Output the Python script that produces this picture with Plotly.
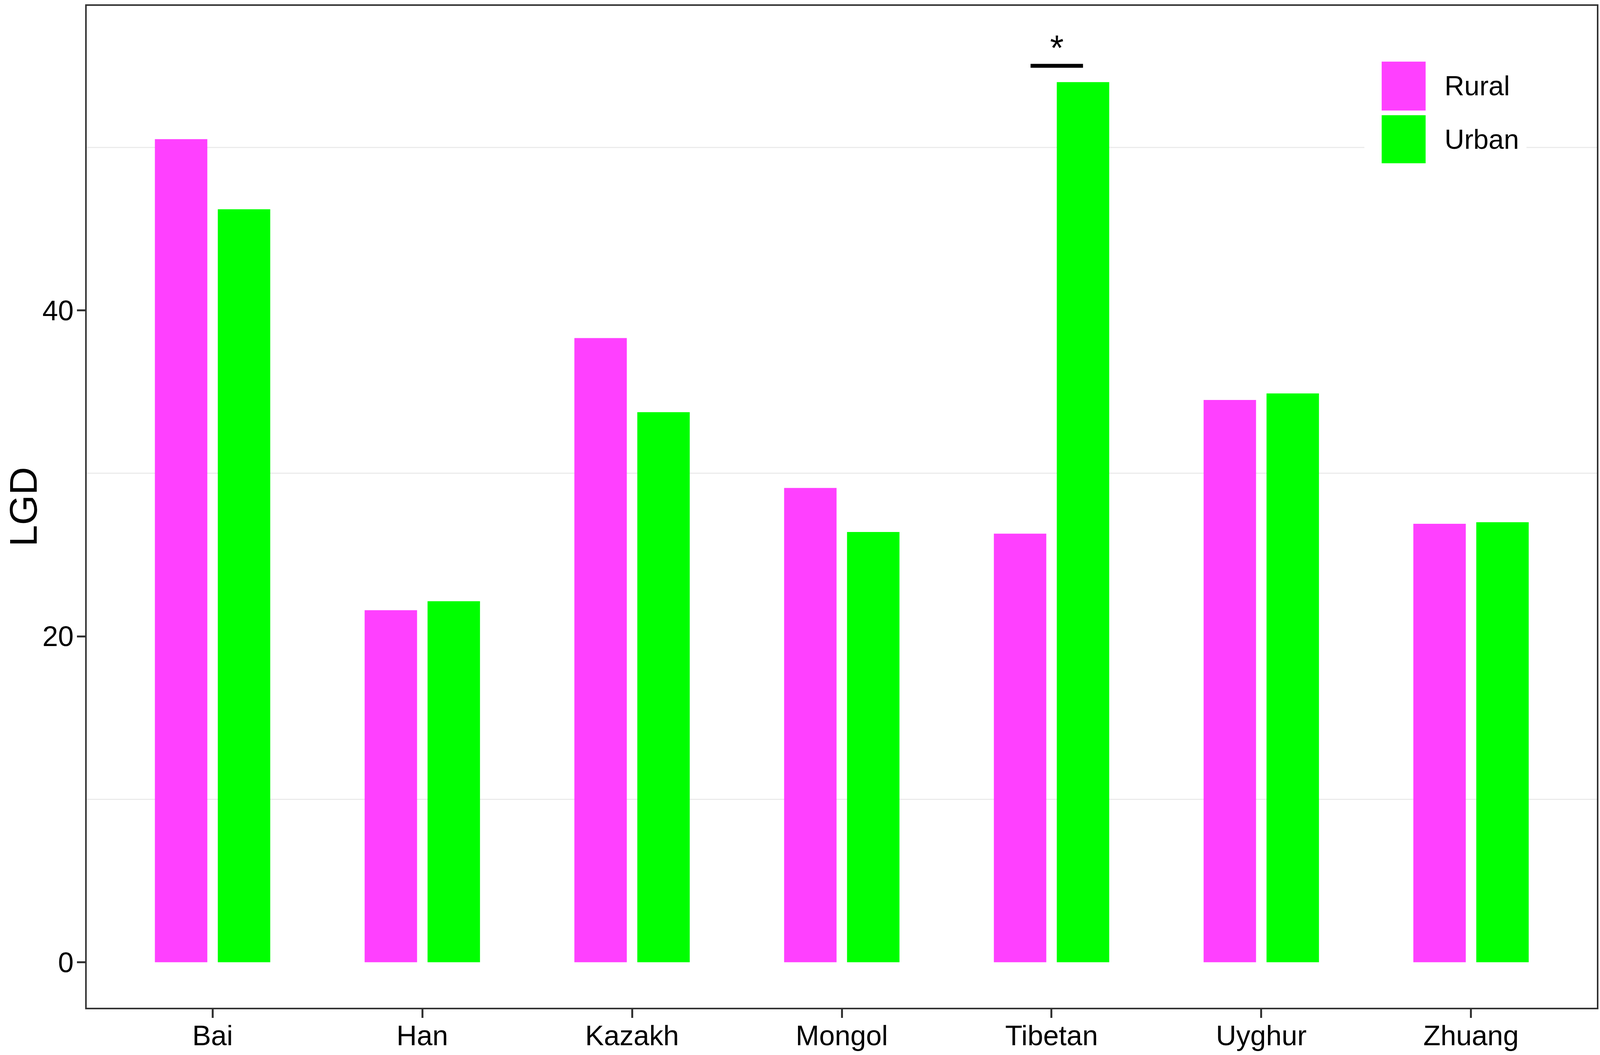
import plotly.graph_objects as go

# data
groups = ["Bai", "Han", "Kazakh", "Mongol", "Tibetan", "Uyghur", "Zhuang"]
series = ["Rural", "Urban"]
rural = [50.5, 21.6, 38.3, 29.1, 26.3, 34.5, 26.9]
urban = [46.2, 22.15, 33.75, 26.4, 54.0, 34.9, 27.0]
y_ticks = [0, 20, 40]
y_grid = [10, 30, 50]
y_title = "LGD"
sig_span = [3.9, 4.15]   # significance bracket over Tibetan
sig_level = 55.0
sig_label = "*"

colors = {"Rural": "#FF40FF", "Urban": "#00FF00"}
font = "Liberation Sans, Arial, Helvetica, sans-serif"
W, H = 4550, 2701
M = dict(l=247, r=9, t=15, b=121)

fig = go.Figure()
for name, vals in zip(series, [rural, urban]):
    fig.add_trace(go.Bar(x=groups, y=vals, name=name,
                         marker=dict(color=colors[name], line=dict(width=0)),
                         showlegend=False))

fig.update_layout(
    width=W, height=H,
    margin=dict(**M, pad=0),
    paper_bgcolor="white", plot_bgcolor="white",
    barmode="group", bargap=0.4, bargroupgap=1 / 6,
    font=dict(family=font, color="black"),
)
fig.update_xaxes(
    range=[-0.6, 6.6], showgrid=False, automargin=False,
    showline=True, linecolor="#333333", linewidth=4, mirror=True,
    ticks="outside", ticklen=22, tickwidth=5, tickcolor="#333333",
    ticklabelstandoff=-16,
    tickfont=dict(size=72, color="black", family=font),
)
fig.update_yaxes(
    range=[-2.79, 58.68], automargin=False,
    tickvals=y_ticks, showgrid=False, zeroline=False,
    minor=dict(tickvals=y_grid, showgrid=True, gridcolor="#EBEBEB", gridwidth=3, ticklen=0),
    showline=True, linecolor="#333333", linewidth=4, mirror=True,
    ticks="outside", ticklen=21, tickwidth=5, tickcolor="#333333",
    ticklabelstandoff=-6,
    tickfont=dict(size=72, color="black", family=font),
)

# y axis title placed in the left margin, its box flush with the page edge
fig.add_annotation(x=-0.0566, y=0.5, xref="paper", yref="paper", text=y_title,
                   textangle=-90, showarrow=False, xanchor="left", yanchor="middle",
                   borderpad=0, font=dict(size=99, color="black", family=font))

# significance bracket
fig.add_shape(type="line", xref="x", yref="y", x0=sig_span[0], x1=sig_span[1],
              y0=sig_level, y1=sig_level, line=dict(color="black", width=10))
fig.add_annotation(x=sum(sig_span) / 2, y=sig_level, xref="x", yref="y",
                   text=sig_label, showarrow=False, yanchor="bottom", yshift=-6,
                   font=dict(size=90, color="black", family=font))

# legend drawn by hand so the keys can be as large as in the original
fig.add_shape(type="rect", xref="paper", yref="paper", x0=0.846, x1=0.9534,
              y0=0.8324, y1=0.9552, fillcolor="white", line=dict(width=0), layer="above")
key_y = [(0.8955, 0.9443), (0.8429, 0.8908)]
for name, (y0, y1) in zip(series, key_y):
    fig.add_shape(type="rect", xref="paper", yref="paper", x0=0.8575, x1=0.8866,
                  y0=y0, y1=y1, fillcolor=colors[name], line=dict(width=0), layer="above")
    fig.add_annotation(x=0.8987, y=(y0 + y1) / 2, xref="paper", yref="paper",
                       text=name, showarrow=False, xanchor="left", yanchor="middle",
                       font=dict(size=70, color="black", family=font))

# fit the figure to the actual browser viewport, keeping margins proportional
fit_js = """
document.body.style.margin = '0';
document.body.style.overflow = 'hidden';
var gd = document.getElementById('{plot_id}');
var w = window.innerWidth, h = window.innerHeight;
Plotly.relayout(gd, {width: w, height: h,
    'margin.l': %f * w, 'margin.r': %f * w,
    'margin.t': %f * h, 'margin.b': %f * h});
""" % (M["l"] / W, M["r"] / W, M["t"] / H, M["b"] / H)

fig.write_html("out.html", post_script=fit_js, config={"displayModeBar": False})
